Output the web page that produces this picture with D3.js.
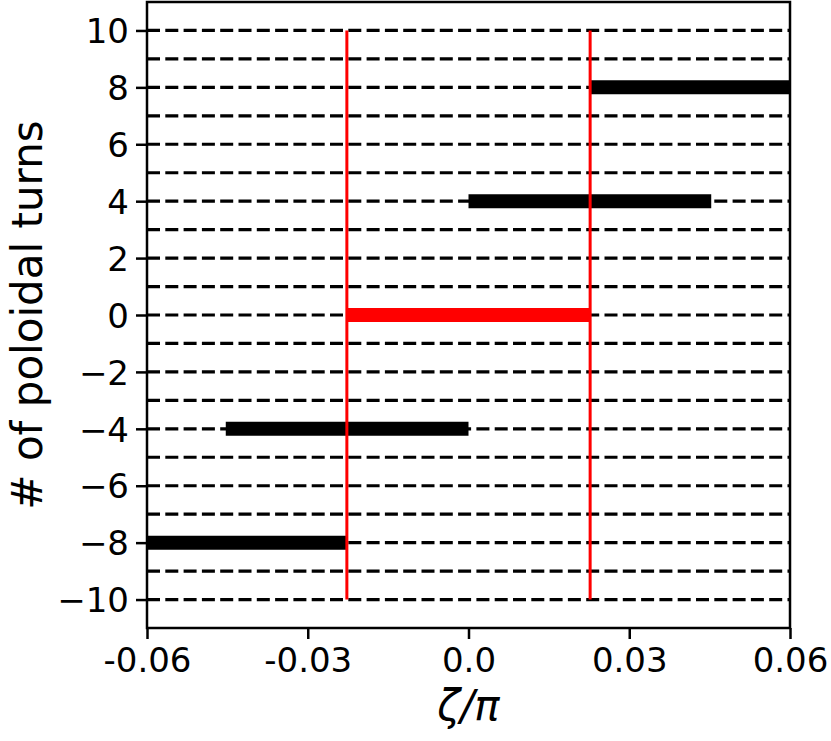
<!DOCTYPE html>
<html>
<head>
<meta charset="utf-8">
<script src="https://cdn.jsdelivr.net/npm/d3@7"></script>
<style>
  html, body { margin: 0; padding: 0; background: #fff; }
  svg text { font-family: "DejaVu Sans", sans-serif; }
</style>
</head>
<body>
<svg id="chart" width="831" height="741"></svg>
<script>
// ---- data ----
const turns = [-8, -4, 0, 4, 8];
const segStart = [-0.06, -0.0453, -0.0227, 0.0, 0.0227];
const segEnd = [-0.0227, 0.0, 0.0227, 0.0453, 0.06];
const boundaries = [-0.0227, 0.0227];
const gridLevels = [-10,-9,-8,-7,-6,-5,-4,-3,-2,-1,0,1,2,3,4,5,6,7,8,9,10];
const xTicks = [-0.06, -0.03, 0.0, 0.03, 0.06];
const xTickLabels = ["-0.06", "-0.03", "0.0", "0.03", "0.06"];
const yTicks = [-10, -8, -6, -4, -2, 0, 2, 4, 6, 8, 10];
const xDomain = [-0.06, 0.06];
const yDomain = [-11, 11];

// ---- layout ----
const L = 147, R = 790, T = 2, B = 628;
const svg = d3.select("#chart");
const x = d3.scaleLinear().domain(xDomain).range([L, R]);
const y = d3.scaleLinear().domain(yDomain).range([B, T]);

svg.append("clipPath").attr("id", "clip")
  .append("rect").attr("x", L).attr("y", T).attr("width", R - L).attr("height", B - T);

const plot = svg.append("g").attr("clip-path", "url(#clip)");

// dashed horizontal lines
plot.selectAll("line.grid").data(gridLevels).join("line")
  .attr("class", "grid")
  .attr("x1", x(xDomain[0])).attr("x2", x(xDomain[1]))
  .attr("y1", d => y(d)).attr("y2", d => y(d))
  .attr("stroke", "#000").attr("stroke-width", 3.2)
  .attr("stroke-dasharray", "13,5.3");

// thick segments
plot.selectAll("line.seg").data(turns).join("line")
  .attr("class", "seg")
  .attr("x1", (d, i) => x(segStart[i])).attr("x2", (d, i) => x(segEnd[i]))
  .attr("y1", d => y(d)).attr("y2", d => y(d))
  .attr("stroke", d => d === 0 ? "#ff0000" : "#000")
  .attr("stroke-width", 14);

// red vertical boundaries
plot.selectAll("line.bnd").data(boundaries).join("line")
  .attr("class", "bnd")
  .attr("x1", d => x(d)).attr("x2", d => x(d))
  .attr("y1", y(d3.min(gridLevels))).attr("y2", y(d3.max(gridLevels)))
  .attr("stroke", "#ff0000").attr("stroke-width", 3);

// axes
const xAxis = d3.axisBottom(x).tickValues(xTicks)
  .tickFormat((d, i) => xTickLabels[i]).tickSize(11).tickPadding(7);
const yAxis = d3.axisLeft(y).tickValues(yTicks)
  .tickFormat(d => d < 0 ? "\u2212" + Math.abs(d) : String(d)).tickSize(11).tickPadding(7);

const gx = svg.append("g").attr("transform", `translate(0,${B})`).call(xAxis);
const gy = svg.append("g").attr("transform", `translate(${L},0)`).call(yAxis);
[gx, gy].forEach(g => {
  g.select(".domain").remove();
  g.selectAll(".tick line").attr("stroke", "#000").attr("stroke-width", 2.5);
  g.selectAll(".tick text").attr("fill", "#000").style("font-size", "34px")
    .style("font-family", "DejaVu Sans, sans-serif");
});
gy.selectAll(".tick text").attr("dy", "0.36em");
gx.selectAll(".tick text").attr("dy", "0.75em");

// frame
svg.append("rect").attr("x", L).attr("y", T).attr("width", R - L).attr("height", B - T)
  .attr("fill", "none").attr("stroke", "#000").attr("stroke-width", 2.5);

// axis labels
svg.append("text").attr("x", (L + R) / 2).attr("y", 720)
  .attr("text-anchor", "middle").style("font-size", "42px").style("font-style", "italic")
  .text("ζ/π");
svg.append("text")
  .attr("transform", `translate(42,${(T + B) / 2}) rotate(-90)`)
  .attr("text-anchor", "middle").style("font-size", "42px")
  .text("# of poloidal turns");
</script>
</body>
</html>
